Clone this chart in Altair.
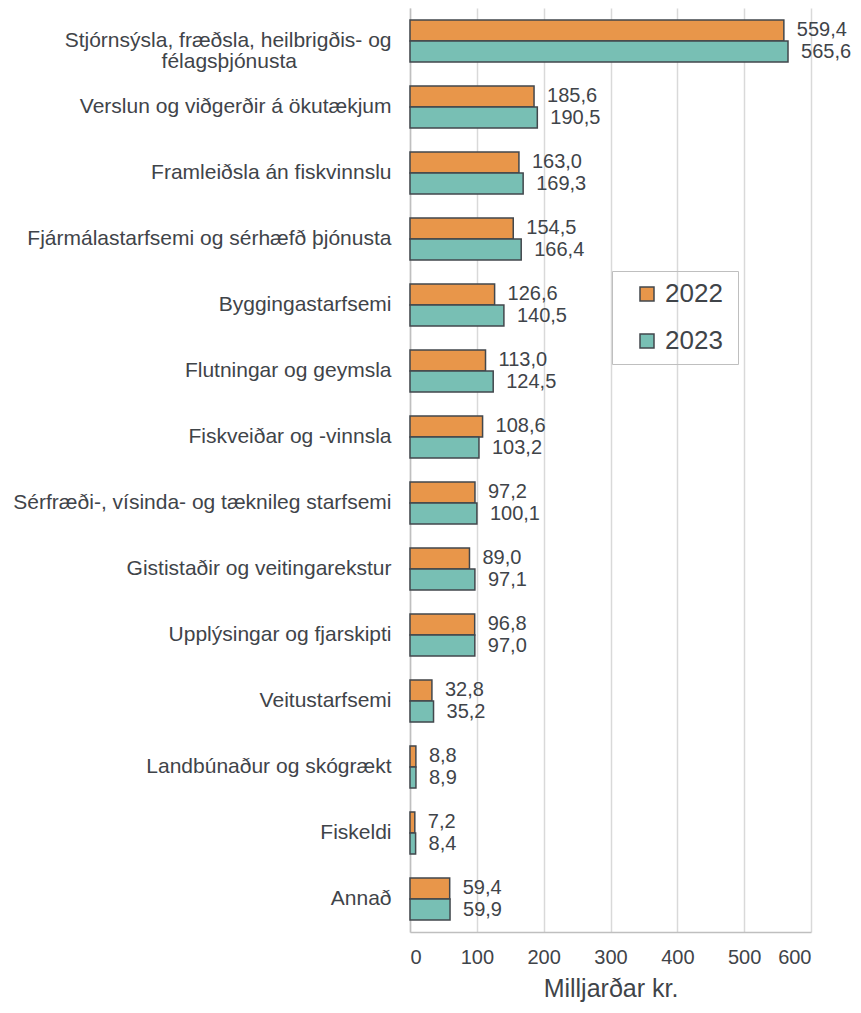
import altair as alt
import pandas as pd

categories = [
    "Stjórnsýsla, fræðsla, heilbrigðis- og félagsþjónusta",
    "Verslun og viðgerðir á ökutækjum",
    "Framleiðsla án fiskvinnslu",
    "Fjármálastarfsemi og sérhæfð þjónusta",
    "Byggingastarfsemi",
    "Flutningar og geymsla",
    "Fiskveiðar og -vinnsla",
    "Sérfræði-, vísinda- og tæknileg starfsemi",
    "Gististaðir og veitingarekstur",
    "Upplýsingar og fjarskipti",
    "Veitustarfsemi",
    "Landbúnaður og skógrækt",
    "Fiskeldi",
    "Annað",
]
first_label_lines = ["Stjórnsýsla, fræðsla, heilbrigðis- og", "félagsþjónusta"]
v2022 = [559.4, 185.6, 163.0, 154.5, 126.6, 113.0, 108.6, 97.2, 89.0, 96.8, 32.8, 8.8, 7.2, 59.4]
v2023 = [565.6, 190.5, 169.3, 166.4, 140.5, 124.5, 103.2, 100.1, 97.1, 97.0, 35.2, 8.9, 8.4, 59.9]
years = ["2022", "2023"]
x_ticks = [0, 100, 200, 300, 400, 500, 600]

rows = []
for c, a, b in zip(categories, v2022, v2023):
    rows.append({"cat": c, "year": years[0], "value": a})
    rows.append({"cat": c, "year": years[1], "value": b})
df = pd.DataFrame(rows)
df["label"] = df["value"].map(lambda v: f"{v:.1f}".replace(".", ","))

TXT = "#3f4449"
FONT = "Liberation Sans"
ensp = "\u2002"
thin = "\u2006"
zw = "\u200b"

label_expr = (
    f"datum.value == '{categories[0]}' ? "
    f"['{first_label_lines[0]}', '{first_label_lines[1]}{ensp * 9}{zw}'] : datum.label"
)

base = alt.Chart(df).encode(
    y=alt.Y(
        "cat:N",
        sort=categories,
        scale=alt.Scale(paddingInner=0.36, paddingOuter=0.18),
        axis=alt.Axis(
            title=None,
            labelFontSize=21,
            labelColor=TXT,
            labelFont=FONT,
            labelPadding=19,
            labelLimit=600,
            labelLineHeight=21,
            ticks=False,
            grid=False,
            domainColor="#bfbfbf",
            domainWidth=1.5,
            labelExpr=label_expr,
        ),
    ),
    yOffset=alt.YOffset("year:N", sort=years, scale=alt.Scale(paddingInner=0, paddingOuter=0)),
)

bars = base.mark_bar(stroke="#42474c", strokeWidth=1.5).encode(
    x=alt.X(
        "value:Q",
        scale=alt.Scale(domain=[0, 600], nice=False),
        axis=alt.Axis(
            values=x_ticks,
            title="Milljarðar kr.",
            titleFontSize=25,
            titleFontWeight="normal",
            titleColor=TXT,
            titleFont=FONT,
            titlePadding=9,
            labelFontSize=20,
            labelColor=TXT,
            labelFont=FONT,
            labelPadding=15,
            ticks=False,
            grid=True,
            gridColor="#d9d9d9",
            gridWidth=1.5,
            domainColor="#bfbfbf",
            domainWidth=1.5,
        ),
    ),
    color=alt.Color(
        "year:N",
        sort=years,
        scale=alt.Scale(domain=years, range=["#e8964a", "#78bfb4"]),
        legend=alt.Legend(
            title=None,
            orient="none",
            legendX=202,
            legendY=263,
            direction="vertical",
            labelFontSize=26,
            labelColor=TXT,
            labelFont=FONT,
            labelOffset=5,
            labelExpr=f"datum.label + '{thin}{zw}'",
            symbolType="square",
            symbolSize=196,
            symbolStrokeColor="#42474c",
            symbolStrokeWidth=1.5,
            symbolOffset=12,
            rowPadding=21,
            padding=10,
            strokeColor="#bfbfbf",
        ),
    ),
)

text = base.mark_text(align="left", baseline="middle", dx=13, fontSize=20, color=TXT, font=FONT).encode(
    x=alt.X("value:Q"),
    text="label:N",
)

chart = (
    (bars + text)
    .properties(
        width=401,
        height=924,
        autosize=alt.AutoSizeParams(type="none"),
        padding={"left": 402, "top": 0, "right": 42, "bottom": 73},
    )
    .configure_view(stroke=None)
)

chart.save("out.html", embed_options={"renderer": "svg", "actions": False})
